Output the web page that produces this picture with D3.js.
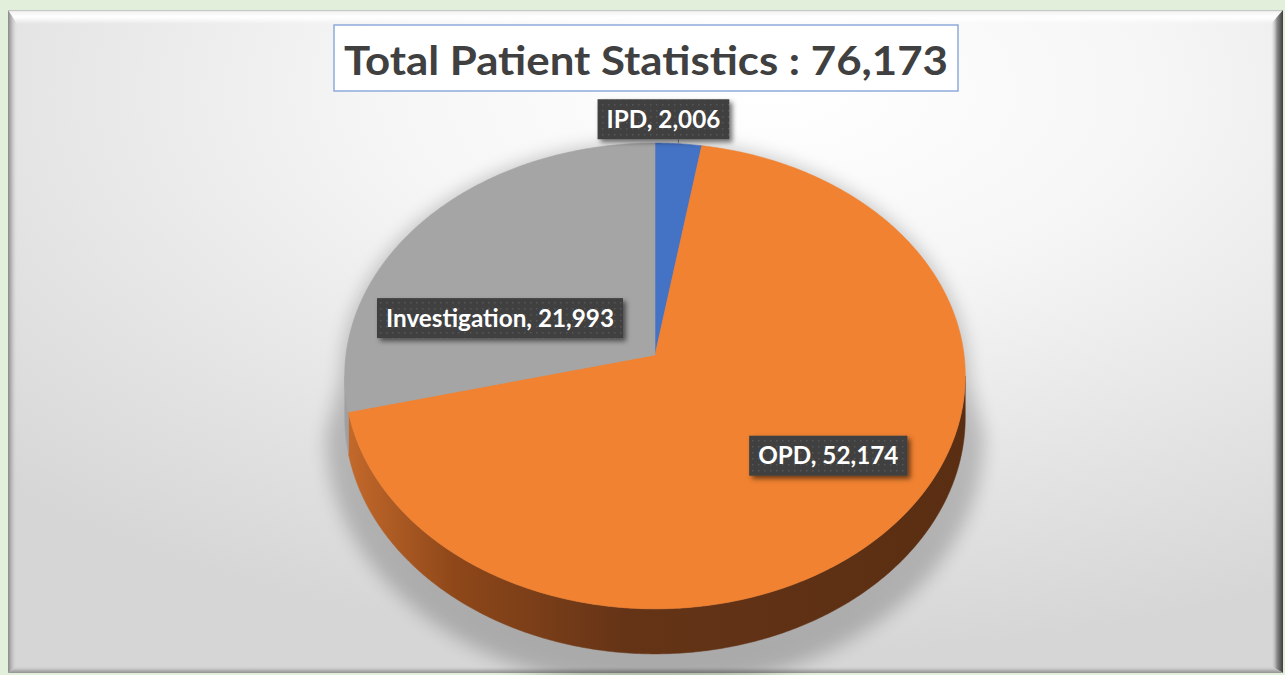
<!DOCTYPE html>
<html>
<head>
<meta charset="utf-8">
<script src="https://cdn.jsdelivr.net/npm/d3@7"></script>
<style>
  html, body { margin: 0; padding: 0; background: #e2efda; }
  svg { display: block; }
</style>
</head>
<body>
<div id="chart"></div>
<script>
// data
var categories = ["IPD", "OPD", "Investigation"];
var patients = [2006, 52174, 21993];
var sliceColors = ["#4472c4", "#f08231", "#a5a5a5"];
var titleText = "Total Patient Statistics : ";

var W = 1285, H = 675;
var fmt = d3.format(",");
var total = d3.sum(patients);

var svg = d3.select("#chart").append("svg")
  .attr("width", W)
  .attr("height", H);

var defs = svg.append("defs");

// panel gradient
var pg = defs.append("radialGradient").attr("id", "panelGrad")
  .attr("cx", 0.6).attr("cy", 0.12).attr("r", 0.85);
pg.append("stop").attr("offset", 0).attr("stop-color", "#ffffff");
pg.append("stop").attr("offset", 0.35).attr("stop-color", "#f6f6f6");
pg.append("stop").attr("offset", 0.75).attr("stop-color", "#e2e2e2");
pg.append("stop").attr("offset", 1).attr("stop-color", "#d6d6d6");

function linGrad(id, x1, y1, x2, y2, stops) {
  var g = defs.append("linearGradient").attr("id", id)
    .attr("x1", x1).attr("y1", y1).attr("x2", x2).attr("y2", y2);
  stops.forEach(function(s){
    g.append("stop").attr("offset", s[0]).attr("stop-color", s[1]).attr("stop-opacity", s[2] == null ? 1 : s[2]);
  });
}
linGrad("bevTop", 0, 0, 0, 1, [[0, "#b4b4b4"], [0.12, "#f4f4f4"], [0.5, "#ffffff"], [1, "#ffffff", 0]]);
linGrad("bevLeft", 0, 0, 1, 0, [[0, "#8a8a8a"], [0.35, "#b4b4b4"], [1, "#d8d8d8", 0]]);
linGrad("bevRight", 0, 0, 1, 0, [[0, "#d8d8d8", 0], [0.5, "#8a8a8a"], [1, "#3c3c3c"]]);
linGrad("bevBottom", 0, 0, 0, 1, [[0, "#d8d8d8", 0], [0.6, "#b4b4b4"], [1, "#929292"]]);

// side colours of the pie (darker, light from the left)
defs.append("linearGradient").attr("id", "sideOrange")
  .attr("gradientUnits", "userSpaceOnUse")
  .attr("x1", 344).attr("y1", 0).attr("x2", 965).attr("y2", 0)
  .call(function(g){
    [[0, "#c56a2c"], [0.18, "#8e4719"], [0.45, "#653417"], [1, "#5a2e12"]].forEach(function(s){
      g.append("stop").attr("offset", s[0]).attr("stop-color", s[1]);
    });
  });
defs.append("linearGradient").attr("id", "sideGray")
  .attr("gradientUnits", "userSpaceOnUse")
  .attr("x1", 344).attr("y1", 0).attr("x2", 965).attr("y2", 0)
  .call(function(g){
    g.append("stop").attr("offset", 0).attr("stop-color", "#a0a0a0");
    g.append("stop").attr("offset", 1).attr("stop-color", "#555555");
  });
defs.append("linearGradient").attr("id", "sideBlue")
  .attr("gradientUnits", "userSpaceOnUse")
  .attr("x1", 344).attr("y1", 0).attr("x2", 965).attr("y2", 0)
  .call(function(g){
    g.append("stop").attr("offset", 0).attr("stop-color", "#2f5597");
    g.append("stop").attr("offset", 1).attr("stop-color", "#1f3864");
  });
var sideFills = ["url(#sideBlue)", "url(#sideOrange)", "url(#sideGray)"];

// filters
defs.append("filter").attr("id", "pieShadow")
  .attr("x", -0.2).attr("y", -0.2).attr("width", 1.4).attr("height", 1.4)
  .append("feGaussianBlur").attr("stdDeviation", 9);
defs.append("filter").attr("id", "boxShadow")
  .attr("x", -0.2).attr("y", -0.3).attr("width", 1.4).attr("height", 1.8)
  .append("feDropShadow").attr("dx", 3).attr("dy", 3)
  .attr("stdDeviation", 2.5).attr("flood-color", "#000").attr("flood-opacity", 0.55);

// dotted label fill
var pat = defs.append("pattern").attr("id", "dots")
  .attr("patternUnits", "userSpaceOnUse").attr("width", 6).attr("height", 6);
pat.append("rect").attr("width", 6).attr("height", 6).attr("fill", "#3f3f3f");
pat.append("rect").attr("x", 2).attr("y", 2).attr("width", 1.5).attr("height", 1.5).attr("fill", "#575757");

// background panel
var px0 = 8, py0 = 10, px1 = 1283, py1 = 673;
svg.append("rect")
  .attr("x", px0).attr("y", py0)
  .attr("width", px1 - px0).attr("height", py1 - py0)
  .attr("fill", "url(#panelGrad)");

var bev = [
  {f: "url(#bevTop)", p: [[px0, py0], [px1, py0], [px1 - 12, py0 + 14], [px0 + 9, py0 + 14]]},
  {f: "url(#bevLeft)", p: [[px0, py0], [px0 + 9, py0 + 14], [px0 + 9, py1 - 7], [px0, py1]]},
  {f: "url(#bevRight)", p: [[px1 - 12, py0 + 14], [px1, py0], [px1, py1], [px1 - 12, py1 - 7]]},
  {f: "url(#bevBottom)", p: [[px0 + 9, py1 - 7], [px1 - 12, py1 - 7], [px1, py1], [px0, py1]]}
];
svg.append("g").selectAll("polygon")
  .data(bev)
  .enter().append("polygon")
  .attr("points", function(d){ return d.p.join(" "); })
  .attr("fill", function(d){ return d.f; });

// 3D pie projection
var cx = 655, cy = 355, Rx = 309, Ry = 231, e = 0.09, depth = 41;
function proj(a, f, h) {
  var X = f * Math.sin(a), Y = -f * Math.cos(a);
  var k = 1 / (1 - e * Y);
  return [cx + Rx * X * k, cy + (Ry * Y + h) * k];
}
function arcPts(a0, a1, f, h) {
  var n = Math.max(2, Math.ceil(Math.abs(a1 - a0) / 0.01));
  return d3.range(n + 1).map(function(i){ return proj(a0 + (a1 - a0) * i / n, f, h); });
}
var line = d3.line();

var pie = d3.pie().sort(null).value(function(d){ return d; });
var arcs = pie(patients);

// visible front side range
var vis0 = Math.acos(-e), vis1 = 2 * Math.PI - Math.acos(-e);

// soft shadow behind the pie, flaring toward the floor
var shadowPts = arcPts(vis1 - 2 * Math.PI, vis0, 1.01, 0)
  .concat(arcPts(vis0, vis1, 1.06, depth + 16));
svg.append("path")
  .attr("d", line(shadowPts) + "Z")
  .attr("fill", "#000")
  .attr("opacity", 0.2)
  .attr("filter", "url(#pieShadow)");

var sides = svg.append("g");
arcs.forEach(function(d, i){
  var s = Math.max(d.startAngle, vis0), t = Math.min(d.endAngle, vis1);
  if (t <= s) return;
  var pts = arcPts(s, t, 1, 0).concat(arcPts(t, s, 1, depth));
  sides.append("path")
    .attr("d", line(pts) + "Z")
    .attr("fill", sideFills[i])
    .attr("stroke", sideFills[i])
    .attr("stroke-width", 0.5);
});

var tops = svg.append("g");
arcs.forEach(function(d, i){
  var pts = [proj(0, 0, 0)].concat(arcPts(d.startAngle, d.endAngle, 1, 0));
  tops.append("path")
    .attr("d", line(pts) + "Z")
    .attr("fill", sliceColors[i])
    .attr("stroke", sliceColors[i])
    .attr("stroke-width", 0.6);
});

// title
var tbx = 334, tby = 25, tbw = 624, tbh = 66;
svg.append("rect")
  .attr("x", tbx).attr("y", tby).attr("width", tbw).attr("height", tbh)
  .attr("fill", "#ffffff")
  .attr("stroke", "#8eaadb").attr("stroke-width", 1.5);
svg.append("text")
  .attr("x", tbx + tbw / 2).attr("y", 74.5)
  .attr("text-anchor", "middle")
  .attr("font-family", "Lato, 'Open Sans', sans-serif")
  .attr("font-weight", "bold")
  .attr("font-size", 41)
  .attr("fill", "#404040")
  .attr("textLength", 604)
  .attr("lengthAdjust", "spacingAndGlyphs")
  .text(titleText + fmt(total));

// data labels
var labelLayout = [
  {f: 1.0, dx: -15, dy: -24.5, leader: true},
  {f: 0.6, dx: 32, dy: 3, leader: false},
  {f: 0.7, dx: 9, dy: 59, leader: false}
];
var labelFont = 24, capH = 0.72 * labelFont, padX = 9, boxH = 40;
var labels = svg.append("g");

// measure the natural widths, compress like a narrow face
var probe = labels.append("text")
  .attr("font-family", "Lato, sans-serif").attr("font-weight", "bold")
  .attr("font-size", labelFont).text(categories[2] + ", " + fmt(patients[2]));
var squeeze = 228 / probe.node().getComputedTextLength();
probe.remove();

arcs.forEach(function(d, i){
  var lay = labelLayout[i];
  var mid = (d.startAngle + d.endAngle) / 2;
  var anchor = proj(mid, lay.f, 0);
  var bx = anchor[0] + lay.dx, by = anchor[1] + lay.dy;
  var txt = categories[i] + ", " + fmt(patients[i]);

  var t = labels.append("text")
    .attr("font-family", "Lato, sans-serif").attr("font-weight", "bold")
    .attr("font-size", labelFont).text(txt);
  var tw = t.node().getComputedTextLength() * squeeze;
  t.remove();

  if (lay.leader) {
    labels.append("line")
      .attr("x1", anchor[0]).attr("y1", anchor[1])
      .attr("x2", anchor[0]).attr("y2", by + boxH / 2)
      .attr("stroke", "#8c8c8c").attr("stroke-width", 1);
  }
  labels.append("rect")
    .attr("x", bx - tw / 2 - padX).attr("y", by - boxH / 2)
    .attr("width", tw + 2 * padX).attr("height", boxH)
    .attr("fill", "url(#dots)")
    .attr("filter", "url(#boxShadow)");
  labels.append("text")
    .attr("x", bx).attr("y", by + capH / 2)
    .attr("text-anchor", "middle")
    .attr("font-family", "Lato, sans-serif").attr("font-weight", "bold")
    .attr("font-size", labelFont)
    .attr("fill", "#ffffff")
    .attr("textLength", tw)
    .attr("lengthAdjust", "spacingAndGlyphs")
    .text(txt);
});
</script>
</body>
</html>
